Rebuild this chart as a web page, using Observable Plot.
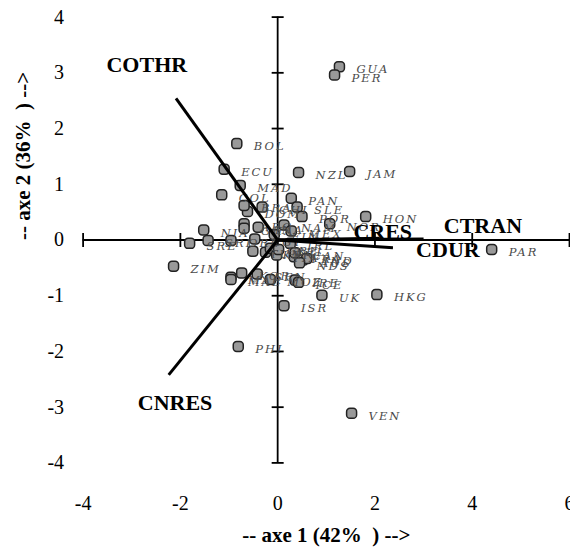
<!DOCTYPE html>
<html>
<head>
<meta charset="utf-8">
<script src="https://cdn.jsdelivr.net/npm/d3@7"></script>
<script src="https://cdn.jsdelivr.net/npm/@observablehq/plot@0.6"></script>
<style>
  html, body { margin: 0; padding: 0; background: #fff; }
  #chart svg { display: block; overflow: visible; }
</style>
</head>
<body>
<div id="chart"></div>
<script>
// Country scores on the first two principal axes
const codes = ["GUA","PER","BOL","ECU","MAD","COL","NZL","JAM","PAN","SLE","POR","NOR","HON","DOM","BRA","CHI","ARG","GHA","INA","NAM","MEX","NIA","SRE","SRI","ORE","EGY","FIN","IRL","TUN","KEN","GRE","ITA","BEL","FRA","CAN","AUS","IND","NDS","ZIM","MAR","MAL","KOR","SEN","MOZ","IRE","ICE","UK","HKG","ISR","PHI","VEN","PAR"];
const axis1 = [1.27,1.17,-0.84,-1.10,-0.77,-1.15,0.43,1.48,0.28,0.40,0.50,1.07,1.81,-0.62,-0.69,-0.32,-0.69,-0.69,-0.40,0.13,0.28,-1.52,-1.81,-1.43,-0.96,-0.47,-0.07,0.26,-0.51,-0.25,-0.15,-0.02,0.02,0.34,0.36,0.52,0.60,0.45,-2.14,-0.96,-0.96,-0.74,-0.42,-0.15,0.36,0.43,0.91,2.04,0.13,-0.81,1.52,4.40];
const axis2 = [3.11,2.96,1.73,1.27,0.98,0.81,1.21,1.23,0.75,0.59,0.42,0.29,0.42,0.51,0.62,0.59,0.29,0.21,0.23,0.27,0.16,0.18,-0.06,-0.01,-0.01,0.02,0.10,-0.06,-0.20,-0.22,-0.15,-0.27,-0.17,-0.30,-0.23,-0.36,-0.33,-0.41,-0.47,-0.67,-0.71,-0.59,-0.61,-0.71,-0.72,-0.76,-0.99,-0.98,-1.18,-1.91,-3.11,-0.17];

// Variables (loadings) and where their names sit
const varNames = ["COTHR","CNRES","CTRAN","CDUR","CRES"];
const varX = [-2.09,-2.24,3.00,2.37,2.10];
const varY = [2.54,-2.42,0.02,-0.14,0.03];
const varLabelX = [-2.69,-2.11,4.22,3.50,2.16];
const varLabelY = [3.14,-2.92,0.26,-0.18,0.14];

const xTicks = [-4,-2,0,2,4,6];
const yTicks = [-4,-3,-2,-1,0,1,2,3,4];
const xDomain = [-4,6];
const yDomain = [-4,4];
const xTitle = "-- axe 1 (42%  ) -->";
const yTitle = "-- axe 2 (36%  ) -->";

const points = codes.map((c,i) => ({code: c, x: axis1[i], y: axis2[i]}));
const vars = varNames.map((n,i) => ({name: n, x: varX[i], y: varY[i], lx: varLabelX[i], ly: varLabelY[i]}));

const roundSquare = {
  draw(ctx) {
    const s = 5, r = 3.4;
    ctx.moveTo(-s + r, -s);
    ctx.lineTo(s - r, -s);
    ctx.arcTo(s, -s, s, -s + r, r);
    ctx.lineTo(s, s - r);
    ctx.arcTo(s, s, s - r, s, r);
    ctx.lineTo(-s + r, s);
    ctx.arcTo(-s, s, -s, s - r, r);
    ctx.lineTo(-s, -s + r);
    ctx.arcTo(-s, -s, -s + r, -s, r);
    ctx.closePath();
  }
};
const vTick = { draw(ctx) { ctx.moveTo(0, -7); ctx.lineTo(0, 7); } };
const hTick = { draw(ctx) { ctx.moveTo(-6, 0); ctx.lineTo(6, 0); } };

const serif = "'Liberation Serif', 'Times New Roman', serif";

const chart = Plot.plot({
  width: 570,
  height: 553,
  marginLeft: 82.6,
  marginRight: 1,
  marginTop: 16.6,
  marginBottom: 90.6,
  style: { fontFamily: serif, background: "#fff", color: "#000" },
  x: { domain: xDomain },
  y: { domain: yDomain },
  marks: [
    Plot.axisX({ ticks: xTicks, tickSize: 0, tickPadding: 33, fontSize: 20, fontFamily: serif, tickFormat: d => String(d), label: null }),
    Plot.axisY({ ticks: yTicks, tickSize: 0, tickPadding: 19, fontSize: 20, fontFamily: serif, tickFormat: d => String(d), label: null }),
    Plot.ruleY([0], { x1: xDomain[0], x2: xDomain[1], stroke: "#000", strokeWidth: 1.8 }),
    Plot.ruleX([0], { y1: yDomain[0], y2: yDomain[1], stroke: "#000", strokeWidth: 1.8 }),
    Plot.dot(xTicks, { x: d => d, y: 0, symbol: vTick, fill: "none", stroke: "#000", strokeWidth: 1.8 }),
    Plot.dot(yTicks, { x: 0, y: d => d, symbol: hTick, fill: "none", stroke: "#000", strokeWidth: 1.8 }),
    Plot.dot(points, { x: "x", y: "y", symbol: roundSquare, fill: "#999", stroke: "#222", strokeWidth: 1.5 }),
    Plot.text(points, { x: "x", y: "y", text: "code", dx: 17, dy: 3, textAnchor: "start", fontStyle: "italic", fontFamily: "'DejaVu Serif', serif", fontSize: 11.5, fill: "#4a4a4a" }),
    Plot.link(vars, { x1: 0, y1: 0, x2: "x", y2: "y", stroke: "#000", strokeWidth: 3 }),
    Plot.text(vars, { x: "lx", y: "ly", text: "name", fontWeight: "bold", fontFamily: serif, fontSize: 22, fill: "#000" }),
    Plot.text([xTitle], { frameAnchor: "bottom", dy: 78.6, fontWeight: "bold", fontFamily: serif, fontSize: 21, fill: "#000" }),
    Plot.text([yTitle], { frameAnchor: "left", dx: -60, rotate: -90, fontWeight: "bold", fontFamily: serif, fontSize: 21, fill: "#000" })
  ]
});
chart.querySelectorAll('g[font-style="italic"]').forEach(g => g.setAttribute("letter-spacing", "2px"));
document.getElementById("chart").appendChild(chart);
</script>
</body>
</html>
